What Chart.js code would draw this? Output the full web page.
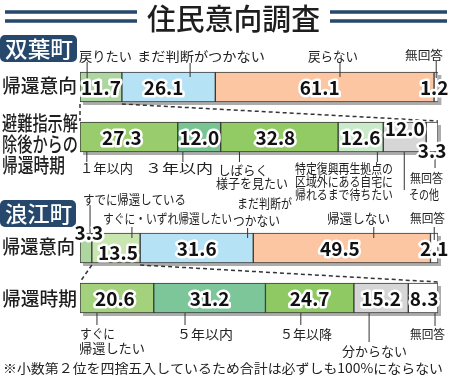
<!DOCTYPE html>
<html><head><meta charset="utf-8">
<script src="https://cdn.jsdelivr.net/npm/chart.js@4"></script>
<style>
html,body{margin:0;padding:0;background:#fff;width:450px;height:381px;overflow:hidden}
#wrap{position:relative;width:450px;height:381px}
canvas{position:absolute;left:0;top:0}
</style></head><body>
<div id="wrap"><canvas id="c1" width="450" height="381"></canvas><canvas id="c2" width="450" height="381"></canvas></div>
<script>
// ---------- DATA ----------
const title = '住民意向調査';
const townNames = ['双葉町', '浪江町'];
const futabaRows = ['帰還意向', ['避難指示解', '除後からの', '帰還時期']];
const namieRows = ['帰還意向', '帰還時期'];

const futabaIntentLabels = ['戻りたい', 'まだ判断がつかない', '戻らない', '無回答'];
const futabaIntentValues = [11.7, 26.1, 61.1, 1.2];
const futabaTimingLabels = ['１年以内', '３年以内', ['しばらく', '様子を見たい'], ['特定復興再生拠点の', '区域外にある自宅に', '帰れるまで待ちたい'], 'その他', '無回答'];
const futabaTimingValues = [27.3, 12.0, 32.8, 12.6, 12.0, 3.3];

const namieIntentLabels = ['すでに帰還している', 'すぐに・いずれ帰還したい', ['まだ判断が', 'つかない'], '帰還しない', '無回答'];
const namieIntentValues = [3.3, 13.5, 31.6, 49.5, 2.1];
const namieTimingLabels = [['すぐに', '帰還したい'], '５年以内', '５年以降', '分からない', '無回答'];
const namieTimingValues = [20.6, 31.2, 24.7, 15.2, 8.3];

const footnote = '※小数第２位を四捨五入しているため合計は必ずしも100%にならない';

// ---------- STYLES ----------
const futabaIntentColors = ['#aed6a0', '#b6e2f6', '#fcc6a3', '#ffffff'];
const futabaTimingColors = ['#98cc6c', '#78c492', '#92ca64', '#c9ebc9', '#d6d6d6', '#ffffff'];
const namieIntentColors = ['#aed6a0', '#c9e6b0', '#b6e2f6', '#fcc6a3', '#ffffff'];
const namieTimingColors = ['#a4d17b', '#7cc69a', '#8fc964', '#d6d6d6', '#ffffff'];

const FONT = '"Noto Sans CJK JP", "Noto Sans", sans-serif';
const NAVY = '#26486c';

// label layouts (position/style only): per row, per segment
const futabaNotes = [
  [ {t:.17, ly:[62,79], pos:[[79,132,56]]},
    {t:.73, ly:[63,77], pos:[[137,265,56]]},
    {t:.57, ly:[63,77], pos:[[308,358,56]]},
    {t:.5,  ly:[61,78], pos:[[405,443,55]], size:12} ],
  [ {t:.07, ly:[152,162], pos:[[80,133,168]]},
    {t:.12, ly:[152,162], pos:[[145,213,168]]},
    {t:.16, ly:[152,162], pos:[[218,268,170],[216,288,183]]},
    {t:.87, ly:[152,162], pos:[[295,393,168],[295,393,181],[295,393,194]]},
    {t:.49, ly:[152,190], pos:[[409,439,194]]},
    {t:.75, ly:[158,168], pos:[[410,443,178]], size:12} ]
];
const namieNotes = [
  [ {t:.85, ly:[205,233], pos:[[83,186,199]]},
    {t:.83, ly:[227,238], pos:[[103,232,218]]},
    {t:.95, ly:[228,238], pos:[[237,292,203],[233,280,220]]},
    {t:.68, ly:[227,238], pos:[[327,390,218]]},
    {t:.5,  ly:[227,240], pos:[[410,445,218]], size:12} ],
  [ {t:.23, ly:[313,325], pos:[[80,115,333],[79,145,348]]},
    {t:.28, ly:[313,325], pos:[[177,233,334]]},
    {t:.4,  ly:[313,325], pos:[[280,332,334]]},
    {t:.28, ly:[313,342], pos:[[342,407,351]]},
    {t:.9,  ly:[313,326], pos:[[410,445,334]], size:12} ]
];
const futabaNumOffsets = [[[0,0],[-5,0],[-5,0],[-2,0]], [[-7,0],[0,0],[-4,0],[0,0],[0,-9],[0,13]]];
const namieNumOffsets = [[[3,-16],[2,4],[0,0],[-2,0],[0,0]], [[-2,0],[0,0],[0,0],[0,0],[1,0]]];

// ---------- HELPERS ----------
function txt(ctx, s, x0, x1, y, size, opt) {
  opt = opt || {};
  ctx.save();
  ctx.font = (opt.weight || 400) + ' ' + size + 'px ' + FONT;
  ctx.textBaseline = 'middle'; ctx.textAlign = 'left';
  const w = ctx.measureText(s).width;
  const sc = (x1 != null) ? (x1 - x0) / w : 1;
  ctx.translate(x0, y); ctx.scale(sc, 1);
  ctx.fillStyle = opt.color || '#2a2a2a';
  ctx.fillText(s, 0, 0);
  ctx.restore();
}
function num(ctx, s, cx, cy) {
  ctx.save();
  ctx.font = '700 19px ' + FONT;
  ctx.textAlign = 'center'; ctx.textBaseline = 'middle';
  ctx.lineJoin = 'round'; ctx.lineWidth = 5; ctx.strokeStyle = '#fff';
  ctx.strokeText(s, cx, cy);
  ctx.fillStyle = '#111'; ctx.fillText(s, cx, cy);
  ctx.restore();
}

function buildDatasets(rows) {
  const ds = [];
  rows.forEach((r, ri) => {
    r.values.forEach((v, si) => {
      ds.push({
        label: Array.isArray(r.labels[si]) ? r.labels[si].join('') : r.labels[si],
        data: rows.map((_, k) => k === ri ? v : null),
        backgroundColor: r.colors[si],
        borderColor: '#3a3a3a', borderWidth: 1, borderSkipped: false,
        barThickness: 30, _row: ri, _seg: si
      });
    });
  });
  return ds;
}

function rowElements(chart, ri) {
  const out = [];
  chart.data.datasets.forEach((d, i) => {
    if (d._row === ri) {
      const el = chart.getDatasetMeta(i).data[ri];
      const p = el.getProps(['x', 'base', 'y', 'height'], true);
      out.push({x0: Math.min(p.x, p.base), x1: Math.max(p.x, p.base), y: p.y, h: p.height, v: d.data[ri]});
    }
  });
  return out;
}

function makeDecor(rows, notes, offsets, connectSeg) {
  return {
    id: 'decor',
    beforeDatasetsDraw(chart) {
      const ctx = chart.ctx;
      for (let ri = 0; ri < rows.length; ri++) {
        const els = rowElements(chart, ri);
        const x0 = els[0].x0, x1 = els[els.length - 1].x1, top = els[0].y - els[0].h / 2;
        ctx.save(); ctx.fillStyle = '#acacac';
        ctx.fillRect(x0 + 3, top + 3, x1 - x0, els[0].h);
        ctx.restore();
      }
    },
    afterDatasetsDraw(chart) {
      const ctx = chart.ctx;
      const r0 = rowElements(chart, 0), r1 = rowElements(chart, 1);
      const s = r0[connectSeg];
      const yA = s.y + s.h / 2 + 2, yB = r1[0].y - r1[0].h / 2 - 1;
      ctx.save(); ctx.setLineDash([4, 3]); ctx.strokeStyle = '#333'; ctx.lineWidth = 1.5;
      ctx.beginPath(); ctx.moveTo(s.x0, yA); ctx.lineTo(r1[0].x0, yB);
      ctx.moveTo(s.x1, yA); ctx.lineTo(r1[r1.length - 1].x1, yB); ctx.stroke();
      ctx.restore();
      for (let ri = 0; ri < rows.length; ri++) {
        const els = rowElements(chart, ri);
        els.forEach((e, si) => {
          const n = notes[ri][si];
          const lx = e.x0 + n.t * (e.x1 - e.x0);
          ctx.save(); ctx.strokeStyle = '#333'; ctx.lineWidth = 1;
          ctx.beginPath(); ctx.moveTo(lx, n.ly[0]); ctx.lineTo(lx, n.ly[1]); ctx.stroke(); ctx.restore();
          let lab = rows[ri].labels[si];
          if (!Array.isArray(lab)) lab = [lab];
          lab.forEach((line, li) => {
            const p = n.pos[li];
            txt(ctx, line, p[0], p[1], p[2], n.size || 13, {color: '#222'});
          });
        });
        els.forEach((e, si) => {
          const o = offsets[ri][si];
          num(ctx, e.v.toFixed(1), (e.x0 + e.x1) / 2 + o[0], e.y + 1 + o[1]);
        });
      }
    }
  };
}

const staticPlugin = {
  id: 'static',
  afterDraw(chart) {
    const ctx = chart.ctx;
    ctx.save(); ctx.strokeStyle = NAVY; ctx.lineWidth = 3.5;
    ctx.beginPath();
    [12, 21].forEach(y => { ctx.moveTo(5, y); ctx.lineTo(137, y); ctx.moveTo(330, y); ctx.lineTo(447, y); });
    ctx.stroke(); ctx.restore();
    txt(ctx, title, 147, 320, 19, 29, {weight: 500, color: '#1e1e1e'});
    const badges = [[0, 35, 77, 27, 5, 73, 49], [0, 200, 76, 27, 5, 72, 214]];
    badges.forEach((b, i) => {
      ctx.save(); ctx.fillStyle = NAVY; ctx.beginPath();
      ctx.roundRect(b[0], b[1], b[2], b[3], 5); ctx.fill(); ctx.restore();
      txt(ctx, townNames[i], b[4], b[5], b[6], 22, {weight: 500, color: '#fff'});
    });
    const rl = {weight: 500, color: '#1e1e1e'};
    txt(ctx, futabaRows[0], 2, 77, 86, 19, rl);
    const fl = futabaRows[1];
    txt(ctx, fl[0], 2, 78, 123, 20, rl);
    txt(ctx, fl[1], 2, 78, 144, 20, rl);
    txt(ctx, fl[2], 2, 65, 165, 20, rl);
    txt(ctx, namieRows[0], 2, 75, 247, 19, rl);
    txt(ctx, namieRows[1], 2, 77, 299, 19, rl);
    txt(ctx, footnote, 3, 443, 368, 13, {color: '#222'});
  }
};

function makeChart(id, rows, labels, notes, offsets, connectSeg, pad, extra) {
  return new Chart(document.getElementById(id), {
    type: 'bar',
    data: {labels: labels, datasets: buildDatasets(rows)},
    options: {
      indexAxis: 'y', responsive: false, animation: false, devicePixelRatio: 1,
      layout: {padding: pad},
      plugins: {legend: {display: false}, tooltip: {enabled: false}},
      scales: {
        x: {type: 'linear', stacked: true, min: 0, max: 100, display: false},
        y: {type: 'category', stacked: true, display: false}
      }
    },
    plugins: [makeDecor(rows, notes, offsets, connectSeg)].concat(extra || [])
  });
}

makeChart('c1',
  [{values: futabaIntentValues, labels: futabaIntentLabels, colors: futabaIntentColors},
   {values: futabaTimingValues, labels: futabaTimingLabels, colors: futabaTimingColors}],
  [futabaRows[0], futabaRows[1].join('')], futabaNotes, futabaNumOffsets, 0,
  {left: 80, right: 12, top: 62, bottom: 219}, [staticPlugin]);

makeChart('c2',
  [{values: namieIntentValues, labels: namieIntentLabels, colors: namieIntentColors},
   {values: namieTimingValues, labels: namieTimingLabels, colors: namieTimingColors}],
  namieRows, namieNotes, namieNumOffsets, 1,
  {left: 80, right: 12, top: 223, bottom: 58});
</script>
</body></html>
